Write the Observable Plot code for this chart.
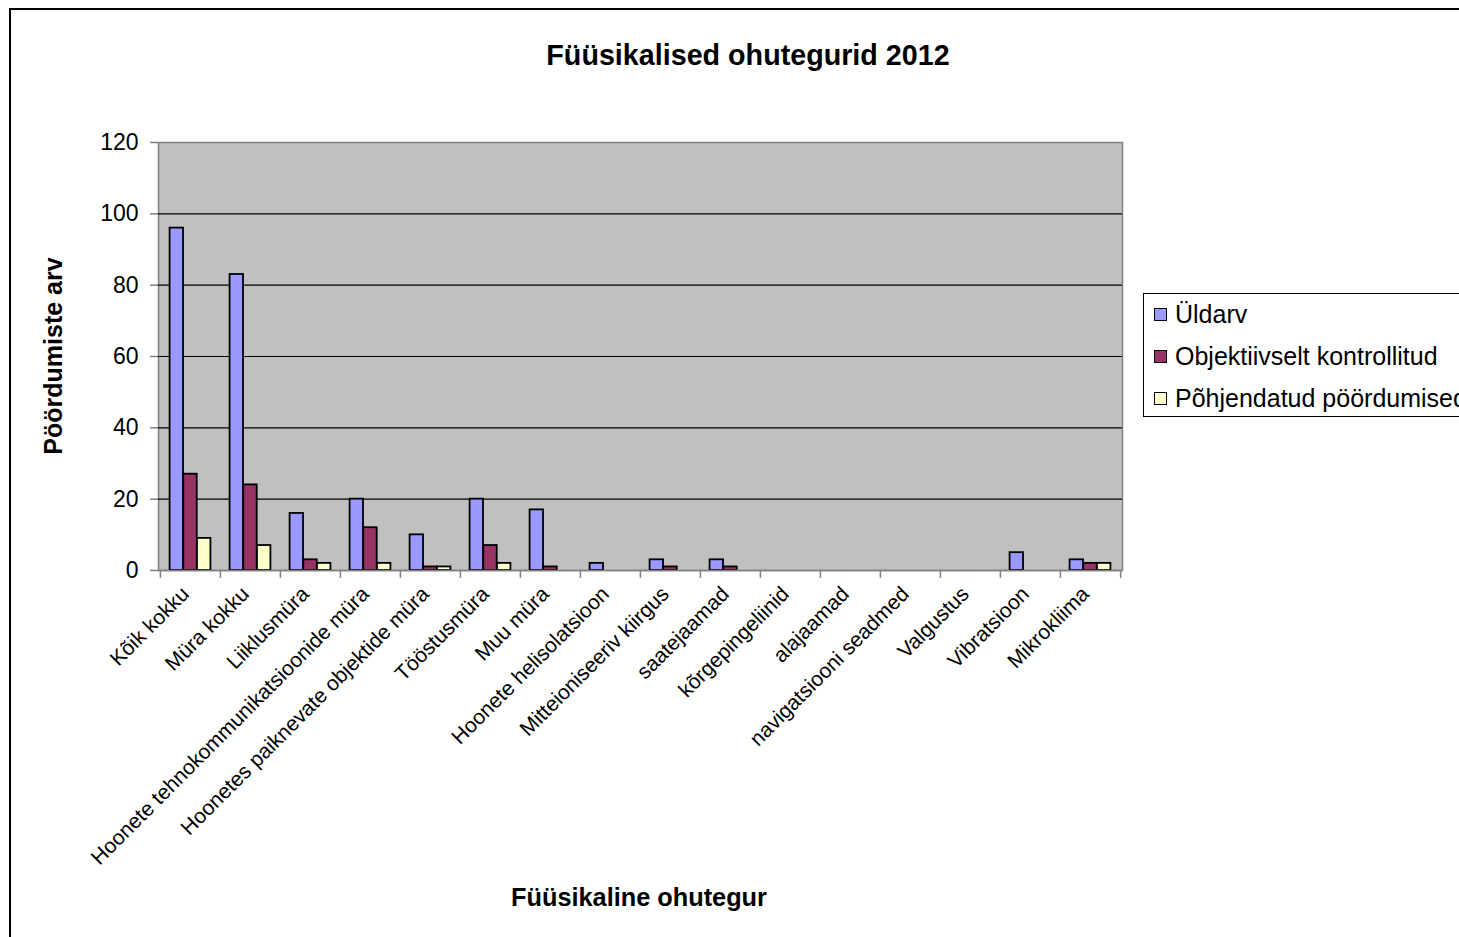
<!DOCTYPE html>
<html>
<head>
<meta charset="utf-8">
<script src="https://cdn.jsdelivr.net/npm/d3@7"></script>
<script src="https://cdn.jsdelivr.net/npm/@observablehq/plot@0.6"></script>
<style>
  html, body { margin: 0; padding: 0; background: #fff; }
  #wrap { position: relative; width: 1459px; height: 937px; overflow: hidden; font-family: "Liberation Sans", Arial, sans-serif; color: #000; }
  #outer { position: absolute; left: 9px; top: 8px; width: 1600px; height: 1000px; border-top: 2px solid #000; border-left: 2px solid #000; }
  #chart { position: absolute; left: 0; top: 0; }
  #title { position: absolute; left: 748px; top: 40px; transform: translateX(-50%); white-space: nowrap; font-weight: bold; font-size: 28.7px; line-height: 30px; }
  #ytitle { position: absolute; left: 53px; top: 356px; transform: translate(-50%, -50%) rotate(-90deg); white-space: nowrap; font-weight: bold; font-size: 25px; line-height: 28px; }
  #xtitle { position: absolute; left: 639px; top: 897px; transform: translate(-50%, -50%); white-space: nowrap; font-weight: bold; font-size: 25.3px; line-height: 28px; }
  #legend { position: absolute; left: 1143px; top: 293px; width: 400px; height: 122px; border: 1px solid #000; background: #fff; }
  .item { position: absolute; left: 10px; height: 30px; display: flex; align-items: center; white-space: nowrap; font-size: 25px; }
  .sw { width: 11px; height: 11px; border: 1.5px solid #000; margin-right: 8px; }
</style>
</head>
<body>
<div id="wrap">
  <div id="outer"></div>
  <div id="chart"></div>
  <div id="title"></div>
  <div id="ytitle"></div>
  <div id="xtitle"></div>
  <div id="legend"></div>
</div>
<script>
const chartTitle = "Füüsikalised ohutegurid 2012";
const yTitle = "Pöördumiste arv";
const xTitle = "Füüsikaline ohutegur";

const categories = [
  "Kõik kokku", "Müra kokku", "Liiklusmüra", "Hoonete tehnokommunikatsioonide müra",
  "Hoonetes paiknevate objektide müra", "Tööstusmüra", "Muu müra", "Hoonete helisolatsioon",
  "Mitteioniseeriv kiirgus", "saatejaamad", "kõrgepingeliinid", "alajaamad",
  "navigatsiooni seadmed", "Valgustus", "Vibratsioon", "Mikrokliima"
];
const seriesNames = ["Üldarv", "Objektiivselt kontrollitud", "Põhjendatud pöördumised"];
const uldarv        = [96, 83, 16, 20, 10, 20, 17, 2, 3, 3, 0, 0, 0, 0, 5, 3];
const objektiivselt = [27, 24,  3, 12,  1,  7,  1, 0, 1, 1, 0, 0, 0, 0, 0, 2];
const pohjendatud   = [ 9,  7,  2,  2,  1,  2,  0, 0, 0, 0, 0, 0, 0, 0, 0, 2];
const seriesColors = ["#9999FF", "#993366", "#FFFFCC"];
const yTicks = [0, 20, 40, 60, 80, 100, 120];
const gridValues = [20, 40, 60, 80, 100];

const seriesValues = [uldarv, objektiivselt, pohjendatud];
const rows = categories.flatMap((c, i) => seriesNames.map((s, k) => ({category: c, series: s, value: seriesValues[k][i]})));

document.getElementById("title").textContent = chartTitle;
document.getElementById("ytitle").textContent = yTitle;
document.getElementById("xtitle").textContent = xTitle;

const W = 1459, H = 937;
const mL = 158, mR = 337, mT = 142, mB = 367;
const band = (W - mL - mR) / categories.length;
const barW = band / 4.4;
const inset = (band - barW) / 2;

const plot = Plot.plot({
  width: W,
  height: H,
  marginLeft: mL,
  marginRight: mR,
  marginTop: mT,
  marginBottom: mB,
  style: {fontFamily: "'Liberation Sans', Arial, sans-serif", color: "#000", background: "transparent", overflow: "visible"},
  x: {type: "band", domain: categories, padding: 0, label: null},
  y: {domain: [0, 120], label: null},
  marks: [
    Plot.frame({fill: "#C0C0C0", stroke: "#808080", strokeWidth: 1.5}),
    Plot.ruleY(gridValues, {stroke: "#000", strokeWidth: 1.2}),
    ...seriesNames.map((s, k) => Plot.barY(rows.filter(d => d.series === s && d.value > 0), {
      x: "category", y: "value", fill: seriesColors[k], stroke: "#000", strokeWidth: 1.8,
      insetLeft: inset, insetRight: inset, dx: (k - 1) * barW
    })),
    Plot.ruleY([0], {stroke: "#808080", strokeWidth: 1.5}),
    Plot.ruleX(categories, {x: d => d, y1: 0, y2: 0, insetBottom: -8, dx: -band / 2, stroke: "#808080", strokeWidth: 1.5}),
    Plot.ruleX(categories.slice(-1), {x: d => d, y1: 0, y2: 0, insetBottom: -8, dx: band / 2, stroke: "#808080", strokeWidth: 1.5}),
    Plot.axisY({ticks: yTicks, tickSize: 8, tickPadding: 12, fontSize: 23, stroke: "#808080", strokeWidth: 1.5, label: null}),
    Plot.axisX({tickSize: 0, tickPadding: 10, tickRotate: -45, fontSize: 21, dx: -5, dy: 10, label: null})
  ]
});
document.getElementById("chart").appendChild(plot);

const legend = document.getElementById("legend");
seriesNames.forEach((s, k) => {
  const it = document.createElement("div");
  it.className = "item";
  it.style.top = (5 + k * 42) + "px";
  const sw = document.createElement("span");
  sw.className = "sw";
  sw.style.background = seriesColors[k];
  const tx = document.createElement("span");
  tx.textContent = s;
  it.appendChild(sw);
  it.appendChild(tx);
  legend.appendChild(it);
});
</script>
</body>
</html>
